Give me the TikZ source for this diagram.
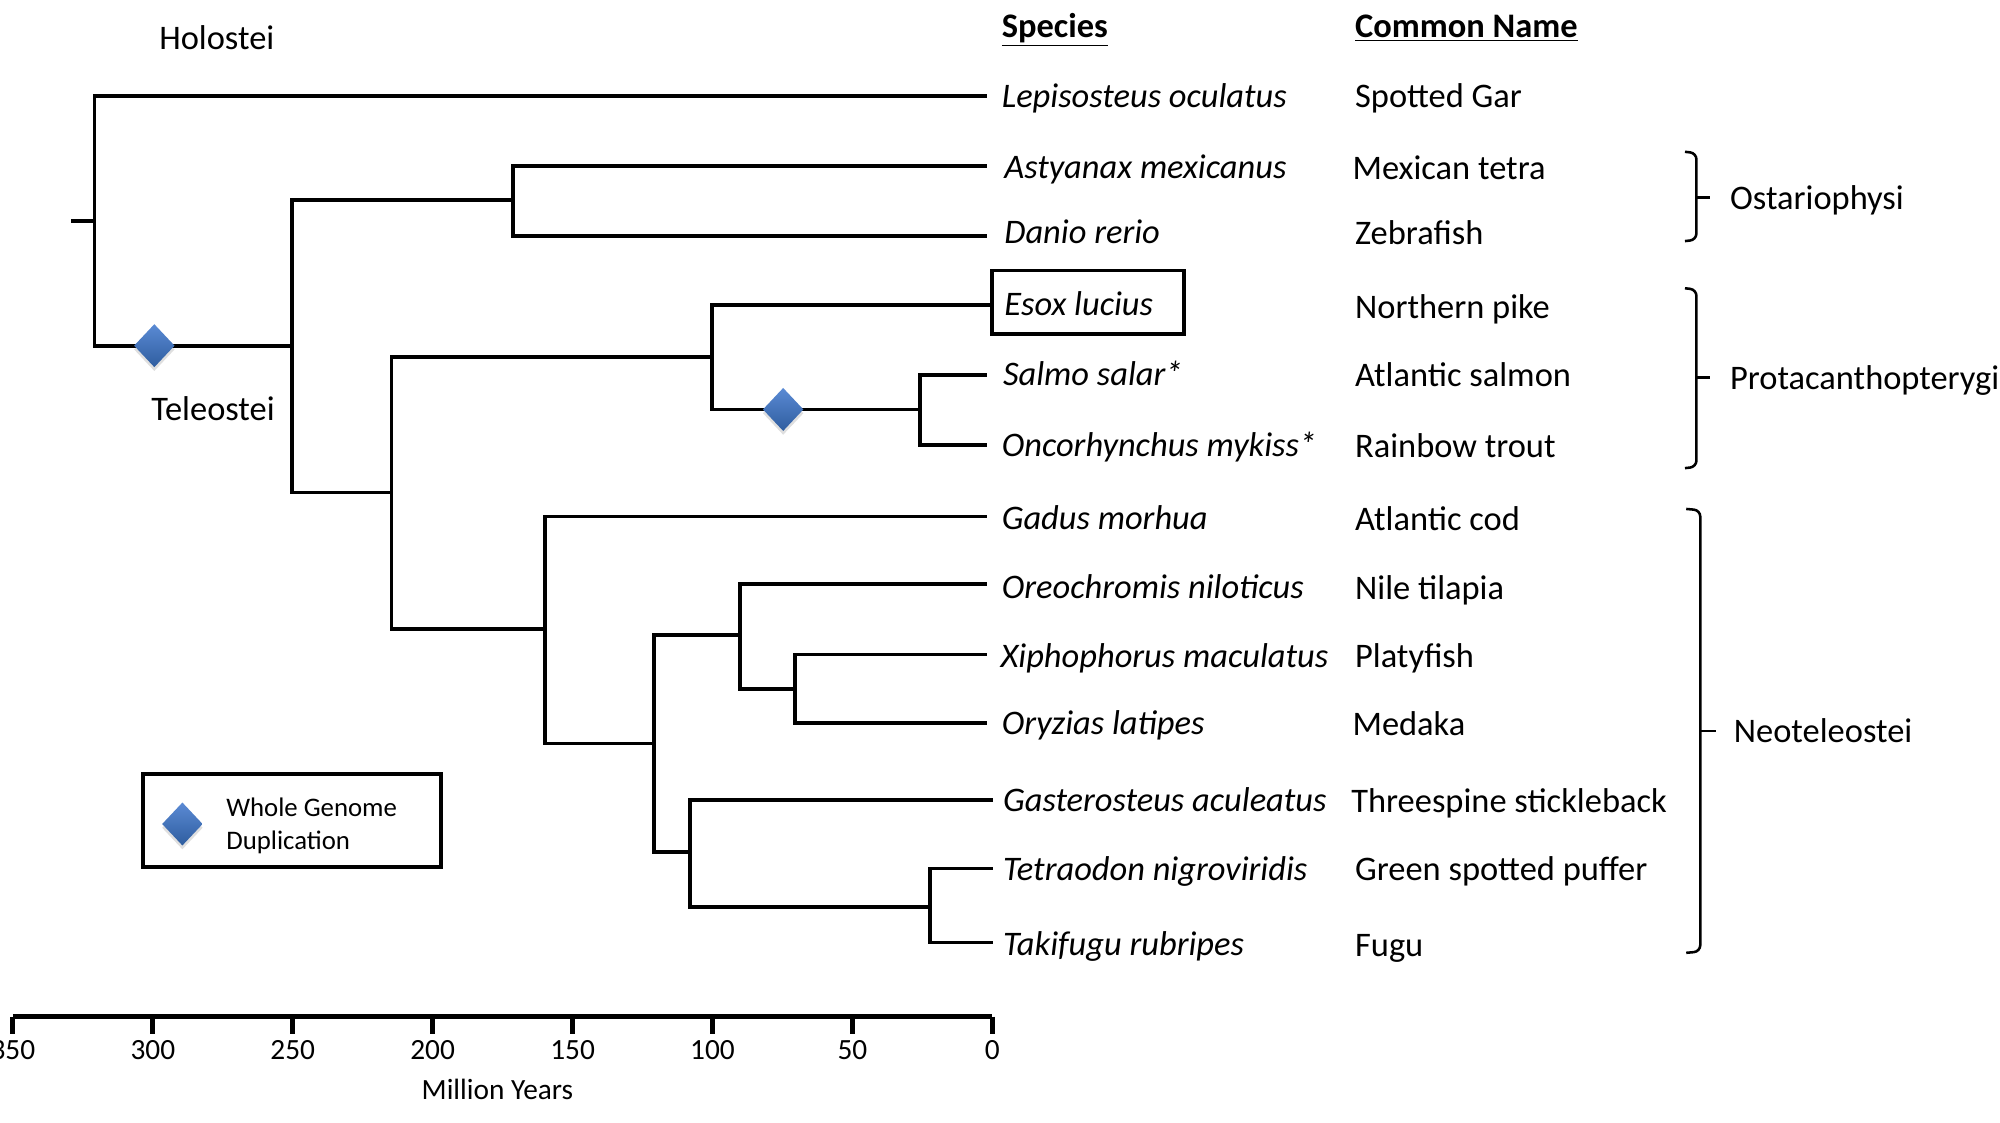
\documentclass[tikz,border=0pt]{standalone}
\usepackage{fontspec}
\setmainfont{Carlito}
\usetikzlibrary{shapes.geometric,shadows}
\definecolor{wgdtop}{HTML}{5A8AD4}
\definecolor{wgdbot}{HTML}{2F5D9F}
\begin{document}
\begin{tikzpicture}[x=0.5pt,y=-0.5pt,
  branch/.style={line width=1.45pt, line cap=rect},
  sp/.style={font=\fontsize{13.5}{16}\selectfont\itshape, inner sep=0pt, anchor=base west, yshift=-1pt},
  cn/.style={font=\fontsize{13.5}{16}\selectfont, inner sep=0pt, anchor=base west, yshift=-1pt},
  hdr/.style={font=\fontsize{13.5}{16}\selectfont\bfseries, inner sep=0pt, anchor=base west, yshift=-1pt},
  ticklab/.style={font=\fontsize{11.5}{14}\selectfont, inner sep=0pt, anchor=base},
  leg/.style={font=\fontsize{10.5}{13}\selectfont, inner sep=0pt, anchor=base west},
  wgd/.style={diamond, minimum width=16pt, minimum height=17pt, inner sep=0pt,
    top color=wgdtop, bottom color=wgdbot, draw=none,
    drop shadow={opacity=0.25, shadow xshift=0pt, shadow yshift=-1.5pt}},
  brk/.style={line width=1pt},
  axisline/.style={line width=2pt}]
\useasboundingbox (0,0) rectangle (1568,880);

% ---- internal nodes
\coordinate (stub) at (57,173);
\coordinate (root) at (74,173);
\coordinate (tel) at (229,271);
\coordinate (ost) at (402,157);
\coordinate (eu) at (307,386);
\coordinate (pro) at (558,280);
\coordinate (sal) at (721,321);
\coordinate (neo) at (427,493);
\coordinate (perc) at (513,583);
\coordinate (na) at (580,498);
\coordinate (nb) at (623,540);
\coordinate (nc) at (541,668);
\coordinate (nd) at (729,711);

% ---- leaf ends
\coordinate (lLep) at (772,75);
\coordinate (lAst) at (772,130);
\coordinate (lDan) at (772,185);
\coordinate (lEso) at (778,239);
\coordinate (lSal) at (772,294);
\coordinate (lOnc) at (772,349);
\coordinate (lGad) at (772,405);
\coordinate (lOre) at (772,458);
\coordinate (lXip) at (772,513);
\coordinate (lOry) at (772,567);
\coordinate (lGas) at (777,627);
\coordinate (lTet) at (777,681);
\coordinate (lTak) at (777,739);

% ---- branches
\draw[branch] (stub) -- (root);
\draw[branch] (root) |- (lLep);
\draw[branch] (root) |- (tel);
\draw[branch] (tel) |- (ost);
\draw[branch] (tel) |- (eu);
\draw[branch] (ost) |- (lAst);
\draw[branch] (ost) |- (lDan);
\draw[branch] (eu) |- (pro);
\draw[branch] (eu) |- (neo);
\draw[branch] (pro) |- (lEso);
\draw[branch] (pro) |- (sal);
\draw[branch] (sal) |- (lSal);
\draw[branch] (sal) |- (lOnc);
\draw[branch] (neo) |- (lGad);
\draw[branch] (neo) |- (perc);
\draw[branch] (perc) |- (na);
\draw[branch] (perc) |- (nc);
\draw[branch] (na) |- (lOre);
\draw[branch] (na) |- (nb);
\draw[branch] (nb) |- (lXip);
\draw[branch] (nb) |- (lOry);
\draw[branch] (nc) |- (lGas);
\draw[branch] (nc) |- (nd);
\draw[branch] (nd) |- (lTet);
\draw[branch] (nd) |- (lTak);

% ---- WGD diamonds
\node[wgd] (wgd1) at (121,271) {};
\node[wgd] (wgd2) at (614,321) {};

% ---- clade labels on tree
\node[cn, anchor=base] (holo) at (170,37) {Holostei};
\node[cn, anchor=base] (tele) at (167,328) {Teleostei};

% ---- headers
\node[hdr] (hsp) at (785,27) {\underline{Species}};
\node[hdr] (hcn) at (1062,27) {\underline{Common Name}};

% ---- species
\node[sp] (tLep) at (785,82) {Lepisosteus oculatus};
\node[sp] (tAst) at (787,138) {Astyanax mexicanus};
\node[sp] (tDan) at (787,189) {Danio rerio};
\node[draw, line width=1.5pt, minimum width=75pt, minimum height=25pt, inner sep=0pt] (esoxbox) at (853,237) {};
\node[sp] (tEso) at (787,245) {Esox lucius};
\node[sp] (tSal) at (786,300) {Salmo salar*};
\node[sp] (tOnc) at (785,356) {Oncorhynchus mykiss*};
\node[sp] (tGad) at (785,413) {Gadus morhua};
\node[sp] (tOre) at (785,467) {Oreochromis niloticus};
\node[sp] (tXip) at (784,521) {Xiphophorus maculatus};
\node[sp] (tOry) at (785,574) {Oryzias latipes};
\node[sp] (tGas) at (786,634) {Gasterosteus aculeatus};
\node[sp] (tTet) at (786,688) {Tetraodon nigroviridis};
\node[sp] (tTak) at (786,747) {Takifugu rubripes};

% ---- common names
\node[cn] (cLep) at (1062,82) {Spotted Gar};
\node[cn] (cAst) at (1060,139) {Mexican tetra};
\node[cn] (cDan) at (1062,190) {Zebrafish};
\node[cn] (cEso) at (1062,248) {Northern pike};
\node[cn] (cSal) at (1062,301) {Atlantic salmon};
\node[cn] (cOnc) at (1062,357) {Rainbow trout};
\node[cn] (cGad) at (1062,414) {Atlantic cod};
\node[cn] (cOre) at (1062,468) {Nile tilapia};
\node[cn] (cXip) at (1062,521) {Platyfish};
\node[cn] (cOry) at (1060,575) {Medaka};
\node[cn] (cGas) at (1059,635) {Threespine stickleback};
\node[cn] (cTet) at (1062,688) {Green spotted puffer};
\node[cn] (cTak) at (1062,748) {Fugu};

% ---- brackets
\draw[brk, rounded corners=2.5pt] (1321,119) -- (1330,120) -- (1330,188) -- (1321,189);
\draw[brk] (1330,155) -- (1341,155);
\node[cn] (bOst) at (1356,162) {Ostariophysi};
\draw[brk, rounded corners=2.5pt] (1321,226) -- (1330,227) -- (1330,366) -- (1321,367);
\draw[brk] (1330,296) -- (1341,296);
\node[cn] (bPro) at (1356,303) {Protacanthopterygi};
\draw[brk, rounded corners=2.5pt] (1322,399) -- (1333,400) -- (1333,746) -- (1322,747);
\draw[brk] (1333,573) -- (1345,573);
\node[cn] (bNeo) at (1359,580) {Neoteleostei};

% ---- legend
\node[draw, line width=1.5pt, minimum width=117pt, minimum height=36.5pt, inner sep=0pt] (legend) at (229,643.5) {};
\node[wgd] (wgdleg) at (143,646) {};
\node[leg] (legt1) at (177,640) {Whole Genome};
\node[leg] (legt2) at (177,666) {Duplication};

% ---- time axis
\coordinate (ax0) at (778,797);
\coordinate (ax350) at (10,797);
\draw[axisline] (ax350) -- (ax0);
\foreach \t in {0,50,...,350}{
  \draw[axisline] ({778-2.194*\t},797) -- ({778-2.194*\t},811);
  \node[ticklab] (tick\t) at ({778-2.194*\t},831) {\t};
}
\node[ticklab] (axlab) at (390,862) {Million Years};
\end{tikzpicture}
\end{document}
